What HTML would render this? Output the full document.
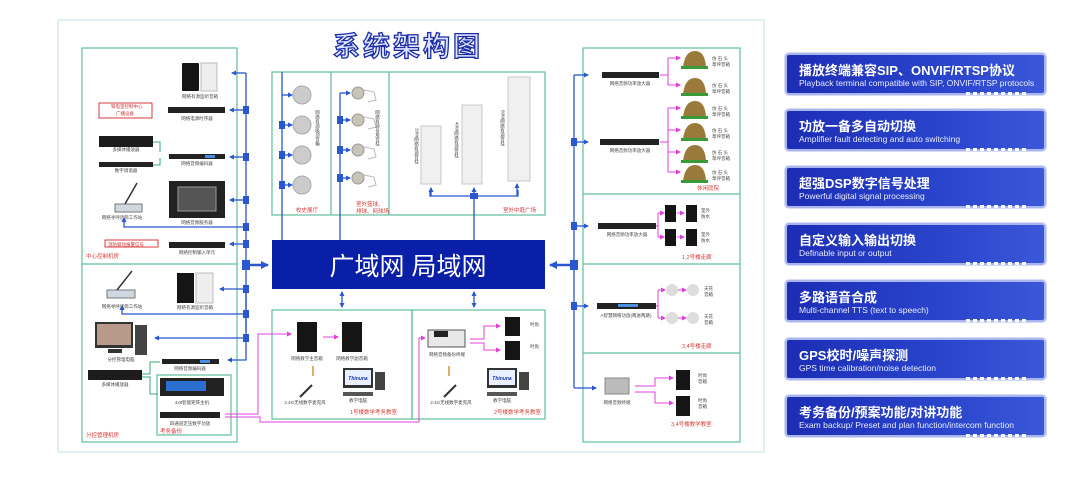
<!DOCTYPE html>
<html><head><meta charset="utf-8"><style>
body{margin:0;width:1080px;height:491px;background:#fff;overflow:hidden;font-family:"Liberation Sans","Noto Sans CJK SC",sans-serif;position:relative}
.card{position:absolute;left:785px;width:257px;height:38px;border:2px solid #a9b6ee;border-radius:4px;background:linear-gradient(90deg,#1c2db5,#2a44cc 60%,#3a58d8);box-shadow:0 0 0 1px #d6dcf7;color:#fff}
.card .t{position:absolute;left:12px;top:5px;font-size:13px;font-weight:bold;white-space:nowrap;font-family:"Liberation Sans","Noto Sans CJK SC",sans-serif}
.card .e{position:absolute;left:12px;top:23px;font-size:8.5px;white-space:nowrap;color:#e8ecff}
.card .d{position:absolute;right:18px;bottom:-2px;width:60px;height:3px;background:repeating-linear-gradient(90deg,#fff 0 4px,transparent 4px 7px)}
</style></head><body>
<svg width="1080" height="491" style="position:absolute;left:0;top:0" font-family="Liberation Sans, Noto Sans CJK SC, sans-serif">
<defs>
<marker id="a" markerUnits="userSpaceOnUse" markerWidth="5" markerHeight="5" refX="4" refY="2.5" orient="auto"><path d="M0,0L5,2.5L0,5z" fill="#2a56d0"/></marker>
<marker id="b" markerUnits="userSpaceOnUse" markerWidth="8" markerHeight="8" refX="7" refY="4" orient="auto"><path d="M0,0L8,4L0,8z" fill="#2a56d0"/></marker>
<marker id="p" markerUnits="userSpaceOnUse" markerWidth="5" markerHeight="5" refX="4" refY="2.5" orient="auto"><path d="M0,0L5,2.5L0,5z" fill="#e040d8"/></marker>
</defs>
<rect x="58" y="20" width="706" height="432" fill="#fff" stroke="#e3eef3" stroke-width="2"/>
<text x="408" y="56" font-size="27" font-weight="bold" fill="#dfe6ff" stroke="#1c2ca8" stroke-width="1.3" text-anchor="middle" letter-spacing="3">系统架构图</text>
<g fill="none" stroke="#5fbf9c" stroke-width="1.2">
<rect x="82" y="48" width="155" height="394"/><line x1="82" y1="264" x2="237" y2="264"/>
<rect x="272" y="72" width="273" height="143"/><line x1="331" y1="72" x2="331" y2="215"/><line x1="389" y1="72" x2="389" y2="215"/>
<rect x="272" y="310" width="140" height="109"/><rect x="412" y="310" width="133" height="109"/>
<rect x="583" y="48" width="157" height="394"/><line x1="583" y1="194" x2="740" y2="194"/><line x1="583" y1="264" x2="740" y2="264"/><line x1="583" y1="353" x2="740" y2="353"/>
<rect x="157" y="375" width="74" height="60"/>
</g>
<rect x="272" y="240" width="273" height="49" fill="#0a1fa8"/>
<text x="408" y="275" font-size="25" fill="#fff" text-anchor="middle">广域网  局域网</text>
<g stroke="#2a56d0" stroke-width="1.3" fill="none">
<line x1="246" y1="73" x2="246" y2="332"/>
<line x1="246" y1="73" x2="232" y2="73" marker-end="url(#a)"/>
<line x1="246" y1="110" x2="230" y2="110" marker-end="url(#a)"/>
<line x1="246" y1="157" x2="230" y2="157" marker-end="url(#a)"/>
<line x1="246" y1="200" x2="230" y2="200" marker-end="url(#a)"/>
<polyline points="246,227 124,227 124,218" marker-end="url(#a)"/>
<line x1="246" y1="244" x2="230" y2="244" marker-end="url(#a)"/>
<line x1="246" y1="265" x2="268" y2="265" stroke-width="2.5" marker-end="url(#b)"/>
<line x1="246" y1="289" x2="220" y2="289" marker-end="url(#a)"/>
<polyline points="246,314 122,314 122,306" marker-end="url(#a)"/>
<line x1="246" y1="338" x2="155" y2="338" marker-end="url(#a)"/>
<polyline points="246,290 246,360 228,360" marker-end="url(#a)"/>
<line x1="282" y1="72" x2="282" y2="240"/><line x1="282" y1="95" x2="292" y2="95" marker-end="url(#a)"/><line x1="282" y1="125" x2="292" y2="125" marker-end="url(#a)"/><line x1="282" y1="155" x2="292" y2="155" marker-end="url(#a)"/><line x1="282" y1="185" x2="292" y2="185" marker-end="url(#a)"/>
<line x1="340" y1="93" x2="340" y2="240"/><line x1="340" y1="93" x2="350" y2="93" marker-end="url(#a)"/><line x1="340" y1="120" x2="350" y2="120" marker-end="url(#a)"/><line x1="340" y1="150" x2="350" y2="150" marker-end="url(#a)"/><line x1="340" y1="178" x2="350" y2="178" marker-end="url(#a)"/>
<polyline points="430,190 430,196 518,196 518,190"/><line x1="474" y1="196" x2="474" y2="240"/>
<line x1="431" y1="196" x2="431" y2="188" marker-end="url(#a)"/><line x1="474" y1="196" x2="474" y2="188" marker-end="url(#a)"/><line x1="517" y1="196" x2="517" y2="184" marker-end="url(#a)"/>
<line x1="342" y1="292" x2="342" y2="307" marker-end="url(#a)"/><line x1="474" y1="292" x2="474" y2="307" marker-end="url(#a)"/>
<line x1="342" y1="292" x2="342" y2="296" marker-end="url(#a)" transform="rotate(180 342 294)"/><line x1="474" y1="292" x2="474" y2="296" marker-end="url(#a)" transform="rotate(180 474 294)"/>
<line x1="574" y1="75" x2="574" y2="388"/>
<line x1="574" y1="75" x2="588" y2="75" marker-end="url(#a)"/><line x1="574" y1="142" x2="588" y2="142" marker-end="url(#a)"/><line x1="574" y1="226" x2="588" y2="226" marker-end="url(#a)"/><line x1="574" y1="306" x2="588" y2="306" marker-end="url(#a)"/><line x1="574" y1="388" x2="596" y2="388" marker-end="url(#a)"/>
<line x1="574" y1="265" x2="550" y2="265" stroke-width="2.5" marker-end="url(#b)"/>
</g>
<g fill="#2a56d0">
<rect x="243" y="106" width="6" height="8"/><rect x="243" y="153" width="6" height="8"/><rect x="243" y="196" width="6" height="8"/><rect x="243" y="223" width="6" height="8"/><rect x="243" y="240" width="6" height="8"/><rect x="242" y="260" width="8" height="10"/><rect x="243" y="285" width="6" height="8"/><rect x="243" y="310" width="6" height="8"/><rect x="243" y="334" width="6" height="8"/>
<rect x="279" y="121" width="6" height="8"/><rect x="279" y="151" width="6" height="8"/><rect x="279" y="181" width="6" height="8"/>
<rect x="337" y="116" width="6" height="8"/><rect x="337" y="146" width="6" height="8"/><rect x="337" y="174" width="6" height="8"/><rect x="470" y="193" width="8" height="6"/>
<rect x="571" y="138" width="6" height="8"/><rect x="571" y="222" width="6" height="8"/><rect x="570" y="260" width="8" height="10"/><rect x="571" y="302" width="6" height="8"/>
</g>
<g stroke="#e040d8" stroke-width="1" fill="none">
<line x1="660" y1="75" x2="668" y2="75"/><line x1="668" y1="58" x2="668" y2="85"/><line x1="668" y1="58" x2="680" y2="58" marker-end="url(#p)"/><line x1="668" y1="85" x2="680" y2="85" marker-end="url(#p)"/>
<line x1="660" y1="142" x2="668" y2="142"/><line x1="668" y1="108" x2="668" y2="172"/><line x1="668" y1="108" x2="680" y2="108" marker-end="url(#p)"/><line x1="668" y1="130" x2="680" y2="130" marker-end="url(#p)"/><line x1="668" y1="152" x2="680" y2="152" marker-end="url(#p)"/><line x1="668" y1="172" x2="680" y2="172" marker-end="url(#p)"/>
<line x1="656" y1="226" x2="658" y2="226"/><line x1="658" y1="213" x2="658" y2="237"/><line x1="658" y1="213" x2="664" y2="213" marker-end="url(#p)"/><line x1="658" y1="237" x2="664" y2="237" marker-end="url(#p)"/><line x1="677" y1="213" x2="684" y2="213" marker-end="url(#p)"/><line x1="677" y1="237" x2="684" y2="237" marker-end="url(#p)"/>
<line x1="656" y1="306" x2="658" y2="306"/><line x1="658" y1="290" x2="658" y2="318"/><line x1="658" y1="290" x2="665" y2="290" marker-end="url(#p)"/><line x1="658" y1="318" x2="665" y2="318" marker-end="url(#p)"/><line x1="678" y1="290" x2="686" y2="290" marker-end="url(#p)"/><line x1="678" y1="318" x2="686" y2="318" marker-end="url(#p)"/>
<polyline points="635,386 655,386 655,378 673,378" marker-end="url(#p)"/><polyline points="635,392 655,392 655,403 673,403" marker-end="url(#p)"/>
<polyline points="225,414 258,414 258,334 291,334" marker-end="url(#p)"/><polyline points="225,417 260,417 260,422 419,422 419,338 425,338" marker-end="url(#p)"/>
<line x1="323" y1="337" x2="338" y2="337" marker-end="url(#p)"/>
<polyline points="470,339 484,339 484,326 500,326" marker-end="url(#p)"/><polyline points="470,343 484,343 484,350 500,350" marker-end="url(#p)"/>
</g>
<g stroke="#3aa87a" stroke-width="1" fill="none"><polyline points="145,142 160,142 160,152" /><polyline points="145,165 160,165 160,158"/><polyline points="142,374 150,374 150,362 160,362"/><polyline points="142,377 150,377 150,394 158,394"/></g>
<g>
<rect x="182" y="63" width="17" height="28" fill="#151515" rx="1"/><rect x="201" y="63" width="16" height="28" fill="#eee" stroke="#bbb"/>
<rect x="168" y="107" width="57" height="6" fill="#222"/>
<rect x="99" y="103" width="53" height="15" fill="#fff" stroke="#d83a3a"/>
<rect x="99" y="136" width="54" height="11" fill="#1c1c1c"/>
<rect x="169" y="154" width="56" height="5" fill="#222"/><rect x="205" y="155" width="10" height="3" fill="#4b8ee0"/>
<rect x="99" y="162" width="54" height="5" fill="#222"/>
<rect x="115" y="204" width="27" height="8" fill="#cfd8e0" stroke="#777"/><line x1="125" y1="204" x2="137" y2="183" stroke="#333" stroke-width="1.5"/>
<rect x="169" y="181" width="56" height="37" fill="#222"/><rect x="178" y="187" width="38" height="24" fill="#555" stroke="#999"/>
<rect x="105" y="240" width="53" height="7" fill="#fff" stroke="#d83a3a"/>
<rect x="169" y="242" width="56" height="6" fill="#222"/>
<rect x="107" y="290" width="28" height="8" fill="#cfd8e0" stroke="#777"/><line x1="117" y1="290" x2="132" y2="271" stroke="#333" stroke-width="1.5"/>
<rect x="177" y="273" width="17" height="30" fill="#151515"/><rect x="196" y="273" width="17" height="30" fill="#eee" stroke="#bbb"/>
<rect x="95" y="322" width="38" height="26" fill="#333"/><rect x="97" y="324" width="34" height="21" fill="#b89a8a"/><rect x="135" y="325" width="12" height="30" fill="#444"/><rect x="108" y="349" width="14" height="4" fill="#333"/>
<rect x="162" y="359" width="57" height="5" fill="#222"/><rect x="200" y="360" width="10" height="3" fill="#4b8ee0"/>
<rect x="88" y="370" width="54" height="10" fill="#1c1c1c"/>
<rect x="160" y="378" width="64" height="18" fill="#222"/><rect x="166" y="381" width="40" height="10" fill="#2d6fd0"/>
<rect x="160" y="412" width="60" height="6" fill="#222"/>
<g fill="#ccc" stroke="#aaa"><circle cx="302" cy="95" r="9"/><circle cx="302" cy="125" r="9"/><circle cx="302" cy="155" r="9"/><circle cx="302" cy="185" r="9"/></g>
<g fill="#c8c4b8" stroke="#999"><circle cx="358" cy="93" r="6"/><circle cx="358" cy="120" r="6"/><circle cx="358" cy="150" r="6"/><circle cx="358" cy="178" r="6"/></g>
<g fill="none" stroke="#bbb"><path d="M364,90 l10,2 l2,8 l-8,2"/><path d="M364,117 l10,2 l2,8 l-8,2"/><path d="M364,147 l10,2 l2,8 l-8,2"/><path d="M364,175 l10,2 l2,8 l-8,2"/></g>
<g fill="#f0f0f0" stroke="#c8c8c8"><rect x="421" y="126" width="20" height="58"/><rect x="462" y="105" width="20" height="79"/><rect x="508" y="77" width="22" height="104"/></g>
<rect x="297" y="322" width="20" height="30" fill="#151515"/><rect x="342" y="322" width="20" height="30" fill="#151515"/>
<line x1="300" y1="397" x2="312" y2="385" stroke="#333" stroke-width="2"/><rect x="312" y="366" width="2" height="10" fill="#d8b070"/>
<rect x="343" y="368" width="30" height="20" fill="#333"/><rect x="345" y="370" width="26" height="15" fill="#e8f0ff"/><text x="358" y="380" font-size="5" fill="#1a3aa0" text-anchor="middle" font-weight="bold" font-style="italic">Thinuna</text><rect x="375" y="372" width="10" height="18" fill="#444"/><rect x="343" y="392" width="30" height="4" fill="#555"/>
<rect x="428" y="330" width="37" height="17" fill="#e8e8e8" stroke="#555"/><rect x="434" y="331" width="14" height="6" fill="#222"/>
<rect x="505" y="317" width="15" height="19" fill="#151515"/><rect x="505" y="341" width="15" height="19" fill="#151515"/>
<line x1="444" y1="397" x2="456" y2="385" stroke="#333" stroke-width="2"/><rect x="448" y="366" width="2" height="10" fill="#d8b070"/>
<rect x="487" y="368" width="30" height="20" fill="#333"/><rect x="489" y="370" width="26" height="15" fill="#e8f0ff"/><text x="502" y="380" font-size="5" fill="#1a3aa0" text-anchor="middle" font-weight="bold" font-style="italic">Thinuna</text><rect x="519" y="372" width="10" height="18" fill="#444"/><rect x="487" y="392" width="30" height="4" fill="#555"/>
<rect x="602" y="72" width="57" height="6" fill="#222"/><rect x="600" y="139" width="59" height="6" fill="#222"/>
<rect x="598" y="223" width="58" height="6" fill="#222"/><rect x="597" y="303" width="59" height="6" fill="#222"/><rect x="618" y="304" width="20" height="3" fill="#4b8ee0"/>
<rect x="605" y="378" width="24" height="16" fill="#bbb" stroke="#888"/>
<g fill="#9a7a3a"><path d="M683,67 q2,-16 12,-16 q10,0 11,16z"/><path d="M683,94 q2,-16 12,-16 q10,0 11,16z"/><path d="M683,117 q2,-16 12,-16 q10,0 11,16z"/><path d="M683,139 q2,-16 12,-16 q10,0 11,16z"/><path d="M683,161 q2,-16 12,-16 q10,0 11,16z"/><path d="M683,181 q2,-16 12,-16 q10,0 11,16z"/></g>
<g fill="#3a9a3a"><rect x="681" y="66" width="27" height="3"/><rect x="681" y="93" width="27" height="3"/><rect x="681" y="116" width="27" height="3"/><rect x="681" y="138" width="27" height="3"/><rect x="681" y="160" width="27" height="3"/><rect x="681" y="180" width="27" height="3"/></g>
<g fill="#151515"><rect x="665" y="205" width="11" height="17"/><rect x="686" y="205" width="11" height="17"/><rect x="665" y="229" width="11" height="17"/><rect x="686" y="229" width="11" height="17"/><rect x="676" y="370" width="14" height="20"/><rect x="676" y="396" width="14" height="20"/></g>
<g fill="#ddd"><circle cx="672" cy="290" r="6"/><circle cx="693" cy="290" r="6"/><circle cx="672" cy="318" r="6"/><circle cx="693" cy="318" r="6"/></g>
</g>
<g font-size="4.5" fill="#444" text-anchor="middle">
<text x="200" y="98">网络有源监听音箱</text><text x="197" y="120">网络电源时序器</text><text x="126" y="151">多媒体播放器</text><text x="197" y="165">网络音频编码器</text><text x="126" y="172">数字调谐器</text>
<text x="122" y="219">网络寻呼话筒工作站</text><text x="197" y="224">网络音频服务器</text><text x="197" y="254">网络控制输入单元</text>
<text x="122" y="308">网络寻呼话筒工作站</text><text x="195" y="309">网络有源监听音箱</text><text x="121" y="361">分控管理电脑</text><text x="190" y="370">网络音频编码器</text><text x="115" y="386">多媒体播放器</text>
<text x="192" y="404">4x8智能矩阵主机</text><text x="190" y="425">四通道定压数字功放</text>
<text x="307" y="360">网络教学主音箱</text><text x="352" y="360">网络教学副音箱</text><text x="305" y="404">2.4G无线数字麦克风</text><text x="358" y="402">教学电脑</text>
<text x="447" y="356">网络音频备份终端</text><text x="451" y="404">2.4G无线数字麦克风</text><text x="502" y="402">教学电脑</text>
<text x="630" y="85">网络音频功率放大器</text><text x="630" y="152">网络音频功率放大器</text><text x="627" y="236">网络音频功率放大器</text><text x="626" y="317">A智慧网络功放(两进两路)</text><text x="617" y="404">网络音频终端</text>
</g>
<g font-size="4.5" fill="#444" style="writing-mode:vertical-rl">
<text x="417" y="128">20W网络有源音柱</text><text x="457" y="122">40W网络有源音柱</text><text x="503" y="110">60W网络有源音柱</text>
<text x="318" y="110">网络有源吸顶音箱</text><text x="378" y="110">网络有源号角音柱</text>
</g>
<g font-size="4.5" fill="#444"><text x="712" y="60">仿 石 头</text><text x="712" y="66">草坪音箱</text><text x="712" y="87">仿 石 头</text><text x="712" y="93">草坪音箱</text><text x="712" y="110">仿 石 头</text><text x="712" y="116">草坪音箱</text><text x="712" y="132">仿 石 头</text><text x="712" y="138">草坪音箱</text><text x="712" y="154">仿 石 头</text><text x="712" y="160">草坪音箱</text><text x="712" y="174">仿 石 头</text><text x="712" y="180">草坪音箱</text>
<text x="701" y="212">室外</text><text x="701" y="218">防水</text><text x="701" y="236">室外</text><text x="701" y="242">防水</text><text x="704" y="290">天花</text><text x="704" y="296">音箱</text><text x="704" y="318">天花</text><text x="704" y="324">音箱</text>
<text x="698" y="377">时尚</text><text x="698" y="383">音箱</text><text x="698" y="402">时尚</text><text x="698" y="408">音箱</text>
<text x="530" y="326">时尚</text><text x="530" y="348">时尚</text>
<text x="111" y="108" fill="#c33">铁电室控制中心</text><text x="116" y="115" fill="#c33">广播设备</text><text x="108" y="246" fill="#c33">消防联动报警信号</text></g>
<g font-size="5.5" fill="#d83a3a">
<text x="86" y="258">中心控制机房</text><text x="86" y="437">分控管理机房</text><text x="160" y="433">考务备份</text>
<text x="296" y="212">校史展厅</text><text x="356" y="206">室外篮球、</text><text x="356" y="213">排球、网球场</text><text x="503" y="212">室外中庭广场</text>
<text x="350" y="414">1号楼数学考务教室</text><text x="494" y="414">2号楼数学考务教室</text>
<text x="697" y="190">休闲庭院</text><text x="682" y="259">1,2号楼走廊</text><text x="682" y="348">3,4号楼走廊</text><text x="671" y="426">3,4号楼教学教室</text></g>
</svg>
<div class="card" style="top:53px"><div class="t">播放终端兼容SIP、ONVIF/RTSP协议</div><div class="e">Playback terminal compatible with SIP, ONVIF/RTSP protocols</div><div class="d"></div></div>
<div class="card" style="top:109px"><div class="t">功放一备多自动切换</div><div class="e">Amplifier fault detecting and auto switching</div><div class="d"></div></div>
<div class="card" style="top:166px"><div class="t">超强DSP数字信号处理</div><div class="e">Powerful digital signal processing</div><div class="d"></div></div>
<div class="card" style="top:223px"><div class="t">自定义输入输出切换</div><div class="e">Definable input or output</div><div class="d"></div></div>
<div class="card" style="top:280px"><div class="t">多路语音合成</div><div class="e">Multi-channel TTS (text to speech)</div><div class="d"></div></div>
<div class="card" style="top:338px"><div class="t">GPS校时/噪声探测</div><div class="e">GPS time calibration/noise detection</div><div class="d"></div></div>
<div class="card" style="top:395px"><div class="t">考务备份/预案功能/对讲功能</div><div class="e">Exam backup/ Preset and plan function/intercom function</div><div class="d"></div></div>
</body></html>
